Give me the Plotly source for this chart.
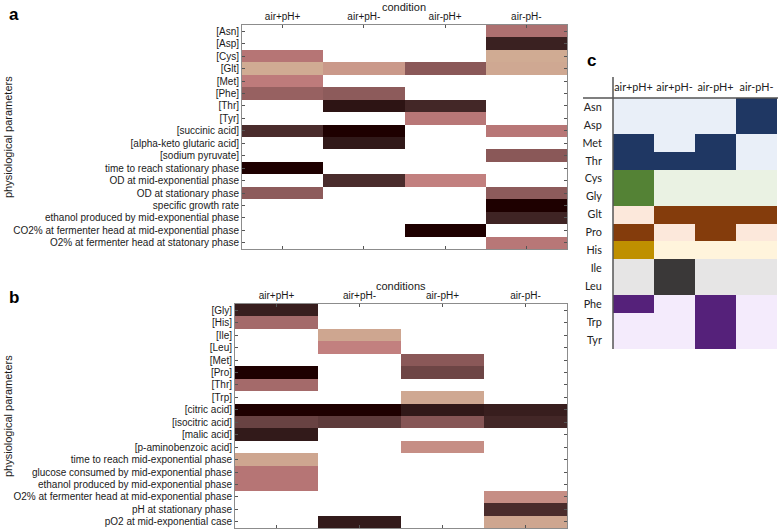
import math
import plotly.graph_objects as go

# ---------------- data ----------------
conditions = ["air+pH+", "air+pH-", "air-pH+", "air-pH-"]

a_params = ["[Asn]", "[Asp]", "[Cys]", "[Glt]", "[Met]", "[Phe]", "[Thr]", "[Tyr]",
            "[succinic acid]", "[alpha-keto glutaric acid]", "[sodium pyruvate]",
            "time to reach stationary phase", "OD at mid-exponential phase",
            "OD at stationary phase", "specific growth rate",
            "ethanol produced by mid-exponential phase",
            "CO2% at fermenter head at mid-exponential phase",
            "O2% at fermenter head at statonary phase"]
N = None
a_airp_php = [N, N, 0.32, 0.50, 0.35, 0.22, N, N, 0.045, N, N, 0.0, N, 0.19, N, N, N, N]
a_airp_phm = [N, N, N, 0.44, N, 0.19, 0.012, N, 0.0, 0.015, N, N, 0.045, N, N, N, N, N]
a_airm_php = [N, N, N, 0.18, N, N, 0.035, 0.33, N, N, N, N, 0.37, N, N, N, 0.0, N]
a_airm_phm = [0.29, 0.025, 0.50, 0.49, N, N, N, N, 0.33, N, 0.18, N, N, 0.19, 0.0, 0.03, N, 0.33]

b_params = ["[Gly]", "[His]", "[Ile]", "[Leu]", "[Met]", "[Pro]", "[Thr]", "[Trp]",
            "[citric acid]", "[isocitric acid]", "[malic acid]", "[p-aminobenzoic acid]",
            "time to reach mid-exponential phase",
            "glucose consumed by mid-exponential phase",
            "ethanol produced by mid-exponential phase",
            "O2% at fermenter head at mid-exponential phase",
            "pH at stationary phase", "pO2 at mid-exponential case"]
b_airp_php = [0.022, 0.26, N, N, N, 0.0, 0.26, N, 0.0, 0.10, 0.016, N, 0.48, 0.32, 0.32, N, N, N]
b_airp_phm = [N, N, 0.48, 0.37, N, N, N, N, 0.0, 0.08, N, N, N, N, N, N, N, 0.016]
b_airm_php = [N, N, N, N, 0.18, 0.11, N, 0.49, 0.015, 0.17, N, 0.41, N, N, N, N, N, N]
b_airm_phm = [N, N, N, N, N, N, N, N, 0.022, 0.035, N, N, N, N, N, 0.41, 0.045, 0.48]

c_amino = ["Asn", "Asp", "Met", "Thr", "Cys", "Gly", "Glt", "Pro", "His",
           "Ile", "Leu", "Phe", "Trp", "Tyr"]
c_group = [0, 0, 0, 0, 1, 1, 2, 2, 3, 4, 4, 5, 5, 5]
# 1 = highlighted (dark) cell, 0 = light cell
c_airp_php = [0, 0, 1, 1, 1, 1, 0, 1, 1, 0, 0, 1, 0, 0]
c_airp_phm = [0, 0, 0, 1, 0, 0, 1, 0, 0, 1, 1, 0, 0, 0]
c_airm_php = [0, 0, 1, 1, 0, 0, 1, 1, 0, 0, 0, 1, 1, 1]
c_airm_phm = [1, 1, 0, 0, 0, 0, 1, 0, 0, 0, 0, 0, 0, 0]

# ---------------- styling ----------------
def pink(t):
    i = 1 + 63 * t
    hr = min(1.0, i / 24)
    hg = min(1.0, max(0.0, (i - 24) / 24))
    hb = min(1.0, max(0.0, (i - 48) / 16))
    r = math.sqrt((2 * t + hr) / 3)
    g = math.sqrt((2 * t + hg) / 3)
    b = math.sqrt((2 * t + hb) / 3)
    return "rgb(%d,%d,%d)" % (round(r * 255), round(g * 255), round(b * 255))

pink_scale = [[k / 64, pink(k / 64)] for k in range(65)]

group_colors = [("#e9eff8", "#1f3763"), ("#eaf2e3", "#548235"), ("#fce8db", "#843c0c"),
                ("#fff4dc", "#bf9000"), ("#e6e5e5", "#3a3838"), ("#f4ebfc", "#55217a")]
c_scale = []
for gi, (light, dark) in enumerate(group_colors):
    c_scale.append([(2 * gi) / 11, light])
    c_scale.append([(2 * gi + 1) / 11, dark])

def cols_to_rows(cols):
    return [list(r) for r in zip(*cols)]

za = cols_to_rows([a_airp_php, a_airp_phm, a_airm_php, a_airm_phm])
zb = cols_to_rows([b_airp_php, b_airp_phm, b_airm_php, b_airm_phm])
zc_cols = []
for col in [c_airp_php, c_airp_phm, c_airm_php, c_airm_phm]:
    zc_cols.append([2 * g + v for g, v in zip(c_group, col)])
zc = cols_to_rows(zc_cols)

W, H = 778, 530
def px(x): return x / W
def py(y): return 1 - y / H

fig = go.Figure()
fig.add_trace(go.Heatmap(z=za, x=conditions, y=a_params, xaxis="x", yaxis="y",
                         colorscale=pink_scale, zmin=0, zmax=1, showscale=False,
                         hoverongaps=False))
fig.add_trace(go.Heatmap(z=zb, x=conditions, y=b_params, xaxis="x2", yaxis="y2",
                         colorscale=pink_scale, zmin=0, zmax=1, showscale=False,
                         hoverongaps=False))
fig.add_trace(go.Heatmap(z=zc, x=conditions, y=c_amino, xaxis="x3", yaxis="y3",
                         colorscale=c_scale, zmin=0, zmax=11, showscale=False))

FONT = "Liberation Sans, Arial, sans-serif"
CFONT = "Lato, Open Sans, sans-serif"
tick_font = dict(family=FONT, size=10, color="#1a1a1a")
common = dict(showgrid=False, zeroline=False, showline=True, linecolor="#8c8c8c",
              linewidth=1, ticks="inside", ticklen=3, tickcolor="#555555",
              mirror="ticks", tickfont=tick_font, tickmode="array")

fig.update_layout(
    width=W, height=H, margin=dict(l=0, r=0, t=0, b=0),
    paper_bgcolor="white", plot_bgcolor="white", showlegend=False,
    xaxis=dict(domain=[px(242), px(567)], anchor="y", side="top",
               tickvals=conditions, **common),
    yaxis=dict(domain=[py(249), py(25)], anchor="x", autorange="reversed",
               tickvals=a_params, **common),
    xaxis2=dict(domain=[px(235), px(567)], anchor="y2", side="top",
                tickvals=conditions, **common),
    yaxis2=dict(domain=[py(528), py(304)], anchor="x2", autorange="reversed",
                tickvals=b_params, **common),
    xaxis3=dict(domain=[px(613), px(777)], anchor="y3", side="top", showgrid=False,
                zeroline=False, showline=False, ticks="outside", ticklen=2,
                tickcolor="rgba(0,0,0,0)", tickmode="array", tickvals=conditions,
                tickfont=dict(family=CFONT, size=10.8, color="#222")),
    yaxis3=dict(domain=[py(349), py(98)], anchor="x3", autorange="reversed", showgrid=False,
                zeroline=False, showline=False, ticks="outside", ticklen=8,
                tickcolor="rgba(0,0,0,0)", tickmode="array", tickvals=c_amino,
                tickfont=dict(family=CFONT, size=10.8, color="#222")),
)

ann = [
    dict(text="<b>a</b>", x=px(14), y=py(15), font=dict(family=FONT, size=17, color="black")),
    dict(text="<b>b</b>", x=px(14), y=py(297), font=dict(family=FONT, size=17, color="black")),
    dict(text="<b>c</b>", x=px(591), y=py(61), font=dict(family=FONT, size=17, color="black")),
    dict(text="condition", x=px(404), y=py(7), font=dict(family=FONT, size=11, color="#1a1a1a")),
    dict(text="conditions", x=px(401), y=py(286), font=dict(family=FONT, size=11, color="#1a1a1a")),
    dict(text="physiological parameters", x=px(8), y=py(137), textangle=-90,
         font=dict(family=FONT, size=11, color="#1a1a1a")),
    dict(text="physiological parameters", x=px(8), y=py(416), textangle=-90,
         font=dict(family=FONT, size=11, color="#1a1a1a")),
]
for a in ann:
    fig.add_annotation(xref="paper", yref="paper", showarrow=False,
                       xanchor="center", yanchor="middle", **a)

fig.add_shape(type="line", xref="paper", yref="paper", x0=px(613), x1=px(613),
              y0=py(77), y1=py(349), line=dict(color="#555555", width=1.5))
fig.add_shape(type="line", xref="paper", yref="paper", x0=px(583), x1=1,
              y0=py(98), y1=py(98), line=dict(color="#555555", width=1.5))

fig.write_html("out.html", config={"displayModeBar": False},
               post_script="document.body.style.margin='0';document.body.style.overflow='hidden';")
